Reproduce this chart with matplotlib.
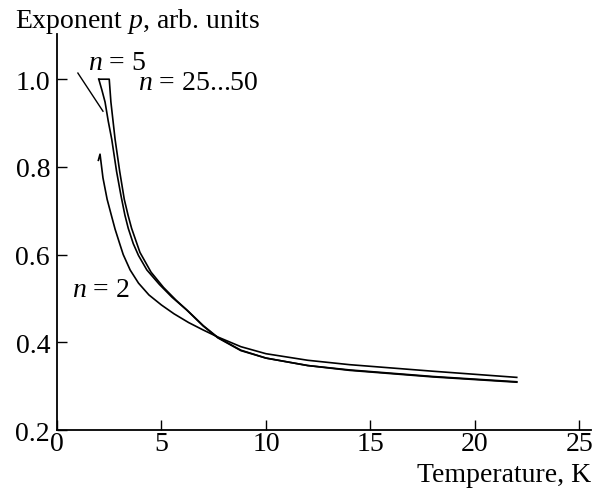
import numpy as np
import matplotlib
matplotlib.use("Agg")
import matplotlib.pyplot as plt

plt.rcParams["font.family"] = ["Liberation Serif", "DejaVu Serif"]
plt.rcParams["mathtext.fontset"] = "custom"
plt.rcParams["mathtext.it"] = "Liberation Serif:italic"
plt.rcParams["mathtext.rm"] = "Liberation Serif"

# curves: temperature (K) vs exponent p
t_n2 = [1.98, 2.06, 2.2, 2.4, 2.6, 2.78, 3.0, 3.17, 3.5, 3.9, 4.4, 5.0, 5.6, 6.3, 7.0,
        7.7, 8.8, 10, 12, 14, 18, 22]
p_n2 = [0.815, 0.829, 0.775, 0.726, 0.69, 0.658, 0.625, 0.6, 0.565, 0.535, 0.508, 0.485,
        0.465, 0.445, 0.428, 0.412, 0.39, 0.374, 0.359, 0.349, 0.334, 0.32]

t_n5 = [2.0, 2.15, 2.3, 2.45, 2.62, 2.85, 3.06, 3.25, 3.41, 3.65, 3.9, 4.3, 4.9, 5.5,
        6.2, 7.0, 7.7, 8.8, 10, 12, 14, 18, 22]
p_n5 = [1.0, 0.975, 0.948, 0.905, 0.863, 0.79, 0.735, 0.69, 0.66, 0.625, 0.598, 0.565,
        0.532, 0.503, 0.474, 0.437, 0.41, 0.381, 0.364, 0.347, 0.337, 0.322, 0.31]

t_n25 = [2.0, 2.5, 2.58, 2.78, 3.0, 3.22, 3.4, 3.57, 3.97, 4.5, 5.1, 5.7, 6.3, 7.0,
         7.7, 8.8, 10, 12, 14, 18, 22]
p_n25 = [1.0, 1.0, 0.948, 0.863, 0.79, 0.726, 0.69, 0.66, 0.605, 0.56, 0.525, 0.496,
         0.47, 0.438, 0.411, 0.382, 0.364, 0.347, 0.336, 0.321, 0.309]

fig = plt.figure(figsize=(6.03, 4.89), dpi=100)
ax = fig.add_axes([0.0945, 0.1186, 0.8855, 0.8094])

for t, p in [(t_n2, p_n2), (t_n5, p_n5), (t_n25, p_n25)]:
    ax.plot(t, p, color="black", lw=1.2, solid_joinstyle="round")

# pointer for the n = 5 label
ax.plot([1.0, 2.2], [1.014, 0.927], color="black", lw=1.0)

ax.text(2.87, 1.039, "$n$ = 5", fontsize=20, ha="center", va="center")
ax.text(3.88, 0.993, "$n$ = 25...50", fontsize=20, ha="left", va="center")
ax.text(0.72, 0.521, "$n$ = 2", fontsize=20, ha="left", va="center")

ax.set_xlim(0, 25.55)
ax.set_ylim(0.2, 1.1026)
ax.set_xticks([0, 5, 10, 15, 20, 25])
ax.set_yticks([0.2, 0.4, 0.6, 0.8, 1.0])
ax.set_yticklabels(["0.2", "0.4", "0.6", "0.8", "1.0"])
ax.tick_params(direction="in", length=7.5, width=1.0, labelsize=20, pad=5)
ax.tick_params(axis="x", pad=1)

for s in ["top", "right"]:
    ax.spines[s].set_visible(False)
for s in ["left", "bottom"]:
    ax.spines[s].set_linewidth(1.3)

fig.text(0.025, 0.957, "Exponent $p$, arb. units", fontsize=20, ha="left", va="center")
fig.text(0.981, 0.027, "Temperature, K", fontsize=20, ha="right", va="center")

fig.savefig("out.png", dpi=100)
